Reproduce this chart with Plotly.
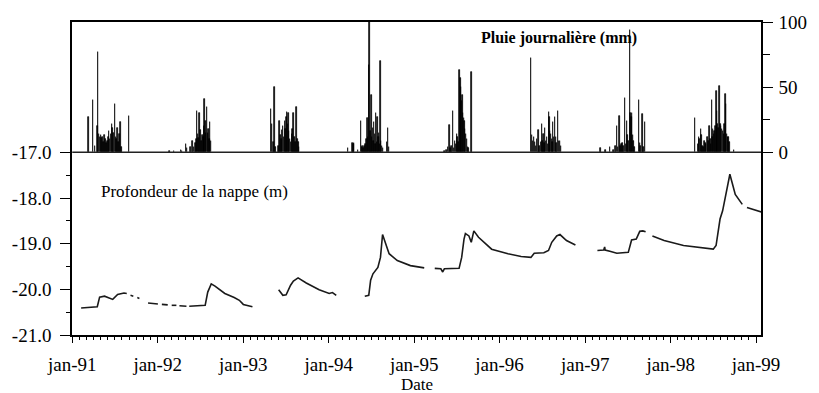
import plotly.graph_objects as go

# ---------------- Groundwater depth (m) ; None = gap in record ----------------
gw_dates = [
    "1991-02-08", "1991-04-18", "1991-04-28", "1991-05-19", "1991-06-23", "1991-07-14", "1991-08-10", "1991-08-22", None,
    "1991-09-07", "1991-09-19", None,
    "1991-10-06", "1991-10-15", None,
    "1991-11-21", "1992-01-02", None,
    "1992-01-19", "1992-02-13", None,
    "1992-03-01", "1992-03-21", None,
    "1992-04-03", "1992-05-03", None,
    "1992-05-15", "1992-07-22", "1992-08-02", "1992-08-17", "1992-09-02", "1992-10-14", "1992-11-23", "1992-12-15", "1993-01-01", "1993-02-09", None,
    "1993-06-01", "1993-06-19", "1993-07-03", "1993-07-22", "1993-08-03", "1993-08-23", "1993-09-27", "1993-11-21", "1994-01-03", "1994-01-17", "1994-02-02", None,
    "1994-06-04", "1994-06-21", "1994-06-29", "1994-07-09", "1994-07-30", "1994-08-10", "1994-08-19", "1994-08-29", "1994-09-16", "1994-10-21", "1994-12-16", "1995-02-13", None,
    "1995-03-30", "1995-04-25", "1995-05-03", "1995-05-10", "1995-07-12", "1995-07-23", "1995-08-02", "1995-08-08", "1995-08-23", "1995-09-02", "1995-09-13", "1995-10-03", "1995-11-28", "1996-02-06", "1996-04-02", "1996-05-14", "1996-05-28", "1996-07-08", "1996-07-28", "1996-08-11", "1996-09-01", "1996-09-15", "1996-10-13", "1996-11-20", None,
    "1997-02-22", "1997-03-21", "1997-03-25", "1997-03-27", "1997-04-20", "1997-05-16", "1997-07-04", "1997-07-11", "1997-07-18", "1997-08-07", "1997-08-22", "1997-09-04", "1997-09-16", None,
    "1997-10-15", "1997-12-04", "1998-02-25", "1998-05-19", "1998-07-02", "1998-07-14", "1998-07-21", "1998-07-31", "1998-08-11", "1998-08-25", "1998-09-05", "1998-09-11", "1998-09-21", "1998-10-04", "1998-11-03", None,
    "1998-11-23", "1999-01-11", "1999-01-25",
]
gw_depth = [
    -20.41, -20.38, -20.17, -20.15, -20.22, -20.11, -20.08, -20.09, None,
    -20.13, -20.15, None,
    -20.18, -20.20, None,
    -20.30, -20.32, None,
    -20.33, -20.34, None,
    -20.35, -20.35, None,
    -20.36, -20.37, None,
    -20.37, -20.35, -20.06, -19.88, -19.93, -20.09, -20.18, -20.24, -20.33, -20.38, None,
    -20.01, -20.13, -20.12, -19.91, -19.82, -19.75, -19.86, -20.01, -20.09, -20.07, -20.13, None,
    -20.15, -20.13, -19.80, -19.66, -19.52, -19.30, -18.80, -18.97, -19.22, -19.37, -19.48, -19.53, None,
    -19.54, -19.55, -19.62, -19.55, -19.54, -19.30, -18.90, -18.78, -18.83, -18.97, -18.72, -18.86, -19.12, -19.22, -19.28, -19.30, -19.21, -19.20, -19.15, -18.97, -18.83, -18.80, -18.93, -19.03, None,
    -19.15, -19.14, -19.07, -19.14, -19.17, -19.21, -19.19, -19.08, -18.92, -18.90, -18.73, -18.72, -18.74, None,
    -18.83, -18.93, -19.04, -19.09, -19.12, -19.04, -18.83, -18.46, -18.28, -17.88, -17.63, -17.48, -17.67, -17.92, -18.14, None,
    -18.21, -18.30, -18.31,
]

# ---------------- Daily rainfall (mm) ----------------
rain_dates = [
    # 1991
    "1991-03-11", "1991-03-31", "1991-04-08", "1991-04-18", "1991-04-21", "1991-04-25", "1991-04-29", "1991-05-03",
    "1991-05-07", "1991-05-11", "1991-05-15", "1991-05-19", "1991-05-23", "1991-05-27", "1991-05-31", "1991-06-04",
    "1991-06-08", "1991-06-12", "1991-06-16", "1991-06-19", "1991-06-23", "1991-06-27", "1991-07-02", "1991-07-06",
    "1991-07-10", "1991-07-14", "1991-07-18", "1991-07-22", "1991-07-27", "1991-07-30", "1991-08-31",
    # 1992
    "1992-02-20", "1992-03-10", "1992-04-09", "1992-04-15", "1992-04-30", "1992-05-06", "1992-05-20", "1992-05-28",
    "1992-06-05", "1992-06-10", "1992-06-14", "1992-06-18", "1992-06-21", "1992-06-24", "1992-06-28", "1992-07-02",
    "1992-07-06", "1992-07-10", "1992-07-14", "1992-07-17", "1992-07-20", "1992-07-23", "1992-07-26", "1992-07-29",
    "1992-08-02", "1992-08-06", "1992-08-09", "1992-08-12", "1992-08-15",
    # 1993
    "1993-04-30", "1993-05-04", "1993-05-10", "1993-05-14", "1993-05-18", "1993-06-01", "1993-06-05", "1993-06-09",
    "1993-06-13", "1993-06-16", "1993-06-19", "1993-06-23", "1993-06-27", "1993-07-01", "1993-07-04", "1993-07-07",
    "1993-07-10", "1993-07-13", "1993-07-16", "1993-07-19", "1993-07-23", "1993-07-27", "1993-07-31", "1993-08-03",
    "1993-08-07", "1993-08-11", "1993-08-16", "1993-08-20", "1993-08-25", "1993-08-28",
    # 1994
    "1994-03-24", "1994-04-12", "1994-04-16", "1994-04-20", "1994-05-06", "1994-05-18", "1994-05-22", "1994-05-26",
    "1994-05-30", "1994-06-03", "1994-06-07", "1994-06-11", "1994-06-15", "1994-06-18", "1994-06-21", "1994-06-25",
    "1994-06-28", "1994-07-02", "1994-07-05", "1994-07-08", "1994-07-11", "1994-07-14", "1994-07-17", "1994-07-20",
    "1994-07-23", "1994-07-26", "1994-07-29", "1994-08-01", "1994-08-04", "1994-08-07", "1994-08-10", "1994-08-13",
    "1994-08-17", "1994-08-21", "1994-09-08", "1994-09-12", "1994-09-16",
    # 1995
    "1995-05-10", "1995-05-20", "1995-05-26", "1995-06-01", "1995-06-05", "1995-06-10", "1995-06-17", "1995-06-21",
    "1995-06-25", "1995-06-28", "1995-07-02", "1995-07-06", "1995-07-10", "1995-07-14", "1995-07-17", "1995-07-20",
    "1995-07-23", "1995-07-26", "1995-07-29", "1995-08-01", "1995-08-04", "1995-08-07", "1995-08-10", "1995-08-14",
    "1995-08-18", "1995-08-22", "1995-09-02",
    # 1996
    "1996-05-15", "1996-05-19", "1996-05-23", "1996-05-27", "1996-05-31", "1996-06-04", "1996-06-09", "1996-06-16",
    "1996-06-20", "1996-06-25", "1996-06-30", "1996-07-03", "1996-07-06", "1996-07-10", "1996-07-14", "1996-07-18",
    "1996-07-22", "1996-07-26", "1996-07-29", "1996-08-01", "1996-08-04", "1996-08-07", "1996-08-11", "1996-08-14",
    "1996-08-17", "1996-08-21", "1996-08-24", "1996-08-28", "1996-09-01", "1996-09-06", "1996-09-10", "1996-09-15",
    "1996-09-19",
    # 1997
    "1997-03-08", "1997-03-29", "1997-04-16", "1997-05-02", "1997-05-10", "1997-05-16", "1997-05-20", "1997-05-27",
    "1997-05-31", "1997-06-04", "1997-06-09", "1997-06-13", "1997-06-20", "1997-06-24", "1997-06-28", "1997-07-01",
    "1997-07-04", "1997-07-11", "1997-07-14", "1997-07-17", "1997-07-20", "1997-07-23", "1997-07-26", "1997-07-30",
    "1997-08-18", "1997-08-22", "1997-08-26", "1997-09-02", "1997-09-06", "1997-09-14",
    # 1998
    "1998-04-15", "1998-04-27", "1998-05-01", "1998-05-05", "1998-05-10", "1998-05-13", "1998-05-17", "1998-05-21",
    "1998-05-26", "1998-05-30", "1998-06-02", "1998-06-08", "1998-06-12", "1998-06-16", "1998-06-20", "1998-06-23",
    "1998-06-26", "1998-06-29", "1998-07-02", "1998-07-05", "1998-07-08", "1998-07-11", "1998-07-15", "1998-07-18",
    "1998-07-21", "1998-07-24", "1998-07-29", "1998-08-01", "1998-08-04", "1998-08-08", "1998-08-12", "1998-08-16",
    "1998-08-19", "1998-08-23", "1998-08-26", "1998-08-29", "1998-09-02", "1998-09-05", "1998-09-09", "1998-09-28",
]
rain_mm = [
    # 1991
    27, 40, 5, 20, 77, 14, 12, 13,
    11, 12, 8, 13, 10, 7, 9, 12,
    16, 10, 14, 22, 19, 15, 37, 12,
    10, 19, 8, 14, 23, 4, 28,
    # 1992
    1, 1, 2, 1, 6, 3, 4, 9,
    4, 7, 10, 32, 14, 11, 30, 17,
    9, 13, 12, 20, 41, 24, 15, 35,
    15, 18, 10, 23, 9,
    # 1993
    33, 22, 8, 50, 4, 5, 24, 13,
    10, 17, 20, 12, 24, 18, 27, 31,
    22, 30, 16, 10, 8, 14, 18, 30,
    12, 8, 35, 10, 8, 4,
    # 1994
    3, 7, 6, 7, 2, 24, 4, 5,
    3, 5, 6, 10, 26, 12, 67, 100,
    16, 44, 12, 19, 9, 23, 14, 6,
    30, 8, 27, 12, 15, 6, 70, 9,
    5, 3, 8, 19, 4,
    # 1995
    1, 2, 4, 21, 3, 5, 32, 3,
    9, 6, 14, 12, 8, 63, 57, 50,
    39, 44, 30, 26, 24, 18, 14, 10,
    4, 3, 62,
    # 1996
    72, 13, 9, 12, 8, 5, 10, 17,
    5, 8, 22, 9, 14, 7, 19, 9,
    12, 6, 31, 27, 16, 14, 10, 8,
    23, 12, 27, 12, 7, 32, 9, 9,
    5,
    # 1997
    3, 2, 4, 2, 5, 20, 4, 28,
    5, 6, 7, 5, 42, 6, 24, 13,
    9, 94, 30, 27, 30, 13, 9, 4,
    40, 7, 5, 29, 4, 23,
    # 1998
    26, 6, 12, 10, 18, 13, 5, 4,
    9, 7, 6, 12, 9, 20, 10, 6,
    40, 12, 18, 14, 16, 20, 47, 32,
    22, 19, 51, 22, 20, 18, 16, 14,
    22, 45, 37, 14, 12, 12, 8, 2,
]

# rainfall record span (zero baseline)
rain_record_dates = ["1991-01-01", "1999-01-22"]
rain_record_zero = [0, 0]

# ---------------- Axis ticks ----------------
year_aliases = {"Jan-%02d" % y: "jan-%02d" % y for y in range(91, 100)}
depth_ticks = [-21, -20, -19, -18, -17]
depth_labels = ["-21.0", "-20.0", "-19.0", "-18.0", "-17.0"]
depth_minor = [-20.5, -19.5, -18.5, -17.5]
rain_ticks = [0, 50, 100]
rain_minor = [25, 75]

fig = go.Figure()
fig.add_trace(go.Bar(
    x=rain_dates, y=rain_mm, yaxis="y2", width=86400000 * 2.0,
    marker=dict(color="black", line=dict(color="black", width=0.7)),
    hoverinfo="skip",
))
fig.add_trace(go.Scatter(
    x=rain_record_dates, y=rain_record_zero, yaxis="y2", mode="lines",
    line=dict(color="#222", width=1.3), hoverinfo="skip",
))
fig.add_trace(go.Scatter(
    x=gw_dates, y=gw_depth, mode="lines", connectgaps=False,
    line=dict(color="#1a1a1a", width=1.6), hoverinfo="skip",
))

serif = "Liberation Serif, Times New Roman, Times, serif"
fig.update_layout(
    width=819, height=393,
    margin=dict(l=70, r=43, t=19, b=58),
    paper_bgcolor="white", plot_bgcolor="white",
    showlegend=False, bargap=0,
    font=dict(family=serif, color="black", size=19),
    xaxis=dict(
        type="date", range=["1990-12-31", "1999-01-22"],
        showline=True, linecolor="black", linewidth=1.5, mirror=True,
        showgrid=False, zeroline=False,
        tickmode="linear", tick0="1991-01-01", dtick="M12", tickformat="%b-%y",
        labelalias=year_aliases,
        ticks="outside", ticklen=6, tickwidth=1.2, tickcolor="black",
        ticklabelstandoff=5,
        minor=dict(ticks="outside", ticklen=3, tickwidth=1, tickcolor="black",
                   dtick="M1", tick0="1991-01-01"),
    ),
    yaxis=dict(
        range=[-21, -14.145],
        showline=True, linecolor="black", linewidth=1.5,
        showgrid=False, zeroline=False,
        tickmode="array", tickvals=depth_ticks, ticktext=depth_labels,
        ticks="outside", ticklen=10, tickwidth=1.2, tickcolor="black",
        ticklabelstandoff=5,
        minor=dict(tickmode="array", tickvals=depth_minor, ticks="outside",
                   ticklen=4, tickwidth=1, tickcolor="black"),
    ),
    yaxis2=dict(
        overlaying="y", side="right", range=[-140.3, 100],
        showline=True, linecolor="black", linewidth=1.5,
        showgrid=False, zeroline=False,
        tickmode="array", tickvals=rain_ticks, ticktext=["0", "50", "100"],
        ticks="outside", ticklen=10, tickwidth=1.2, tickcolor="black",
        ticklabelstandoff=2,
        minor=dict(tickmode="array", tickvals=rain_minor, ticks="outside",
                   ticklen=7, tickwidth=1, tickcolor="black"),
    ),
    annotations=[
        dict(text="<b>Pluie journalière (mm)</b>", xref="paper", yref="paper",
             x=0.5906, y=0.948, xanchor="left", yanchor="middle", showarrow=False,
             font=dict(family=serif, size=16, color="black")),
        dict(text="Profondeur de la nappe (m)", xref="paper", yref="paper",
             x=0.039, y=0.459, xanchor="left", yanchor="middle", showarrow=False,
             font=dict(family=serif, size=17, color="black")),
        dict(text="Date", xref="paper", yref="paper",
             x=0.5, y=-0.158, xanchor="center", yanchor="middle", showarrow=False,
             font=dict(family=serif, size=17, color="black")),
    ],
)

fig.write_html("out.html")
